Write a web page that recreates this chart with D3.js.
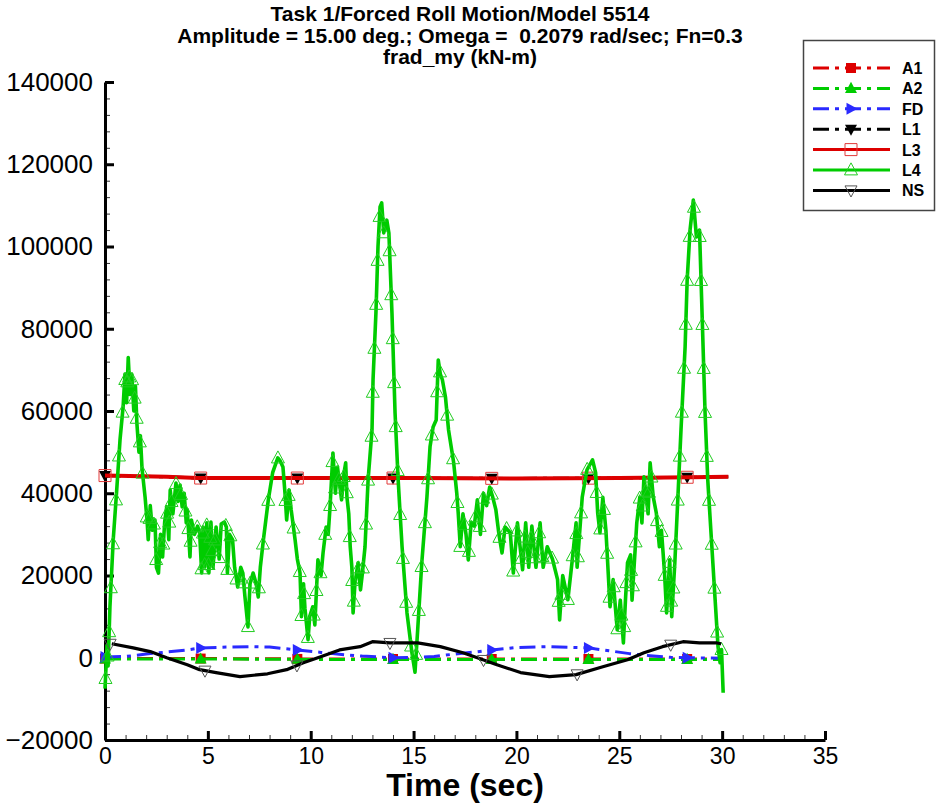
<!DOCTYPE html>
<html>
<head>
<meta charset="utf-8">
<script src="https://cdn.jsdelivr.net/npm/d3@7"></script>
<style>
  html, body { margin: 0; padding: 0; background: #fff; }
  svg { display: block; }
  text { font-family: "Liberation Sans", Arial, sans-serif; }
</style>
</head>
<body>
<svg id="chart" width="938" height="805"></svg>
<script>
// ---------------- DATA ----------------
const titleLines = [
  "Task 1/Forced Roll Motion/Model 5514",
  "Amplitude = 15.00 deg.; Omega =  0.2079 rad/sec; Fn=0.3",
  "frad_my (kN-m)"
];
const xLabel = "Time (sec)";
const seriesNames = ["A1", "A2", "FD", "L1", "L3", "L4", "NS"];
const xTicks = [0, 5, 10, 15, 20, 25, 30, 35];
const yTicks = [-20000, 0, 20000, 40000, 60000, 80000, 100000, 120000, 140000];

// marker times (symbols placed along each curve)
const markerTimes = [0, 4.65, 9.35, 14.0, 18.8, 23.5, 28.3];
const nsMarkerTimes = [0.25, 4.86, 9.33, 13.85, 18.4, 22.95, 27.5];

const a1 = [[0, -200], [5, -200], [10, -300], [15, -300], [20, -300], [25, -300], [30, -300]];
const a2 = [[0, -300], [5, -300], [10, -400], [15, -400], [20, -400], [25, -400], [30, -400]];
const fd = [[0, 200], [1, 300], [2, 900], [3, 1400], [4, 1900], [4.65, 2400], [6, 2600], [7, 2700],
  [8, 2600], [9.35, 1900], [10.5, 1300], [11.5, 800], [12.5, 400], [14, 0], [15, 100], [16, 300],
  [17, 900], [18, 1400], [18.8, 1900], [20, 2500], [21.5, 2700], [23.5, 2400], [24.5, 1700],
  [25.5, 1000], [26.5, 500], [27.5, 100], [28.3, 0], [30, -100]];
const l1 = [[0, 44300], [3, 44000], [4.5, 43700], [10, 43700], [15, 43700], [20, 43600], [25, 43700], [28.5, 43900], [30.3, 44000]];
const l3 = [[0, 44300], [3, 44000], [4.5, 43700], [10, 43700], [15, 43700], [20, 43600], [25, 43700], [28.5, 43900], [30.3, 44000]];
const ns = [[0.33, 3400], [1.37, 2400], [2.2, 1500], [3.0, 0], [4.0, -1700], [4.6, -2900], [5.4, -3600],
  [6.56, -4600], [7.9, -3900], [8.83, -2900], [9.64, -1200], [10.45, 200], [11.4, 1900], [12.4, 2700],
  [13.0, 3900], [13.85, 3600], [14.8, 3600], [15.2, 3600], [16.3, 2700], [17.4, 1200], [18.1, 0],
  [19.05, -1700], [20.2, -3600], [21.6, -4600], [22.9, -4100], [24.2, -2200], [25.4, -500],
  [26.2, 1200], [27.1, 2700], [28.1, 3900], [28.9, 3600], [29.75, 3600], [29.95, 3400]];
const l4 = [[0.0, -7500], [0.1, 3000], [0.15, -2000], [0.24, 12400], [0.4, 28700], [0.57, 40800],
  [0.73, 53000], [0.88, 61000], [0.97, 69000], [1.05, 62000], [1.13, 73000], [1.22, 64000], [1.3, 69000],
  [1.4, 60000], [1.48, 66000], [1.55, 57000], [1.65, 50000], [1.72, 54000], [1.8, 46000], [1.95, 39000],
  [2.05, 33000], [2.1, 28700], [2.2, 37000], [2.3, 31000], [2.43, 33500], [2.5, 22000], [2.6, 20600],
  [2.7, 30000], [2.8, 24500], [2.9, 33000], [3.0, 36700], [3.1, 28700], [3.17, 40800], [3.3, 35000],
  [3.45, 42500], [3.55, 38000], [3.65, 42000], [3.75, 36700], [3.85, 40000], [3.95, 32800], [4.0, 36000],
  [4.13, 24500], [4.2, 33500], [4.35, 30000], [4.5, 32000], [4.6, 30400], [4.7, 20600], [4.77, 31800],
  [4.85, 22100], [4.95, 32800], [5.05, 20600], [5.15, 33000], [5.25, 22000], [5.4, 31800], [5.55, 24000],
  [5.65, 32500], [5.8, 33000], [5.9, 31800], [5.95, 20600], [6.05, 30000], [6.2, 28700], [6.3, 22000],
  [6.45, 17200], [6.6, 22000], [6.7, 20600], [6.8, 15000], [6.95, 7500], [7.05, 18000], [7.2, 20600],
  [7.35, 18000], [7.45, 14800], [7.55, 22000], [7.7, 28700], [7.94, 38400], [8.15, 45000], [8.4, 48600],
  [8.5, 48000], [8.65, 46400], [8.75, 40000], [8.83, 33500], [8.95, 40800], [9.05, 36000], [9.24, 28700],
  [9.35, 24000], [9.48, 20600], [9.55, 10000], [9.65, 18000], [9.72, 12000], [9.87, 4400], [9.95, 10000],
  [10.1, 12400], [10.2, 8000], [10.35, 23800], [10.5, 20000], [10.6, 25500], [10.75, 31800], [10.85, 30000],
  [10.94, 36700], [11.08, 49800], [11.2, 40000], [11.3, 46400], [11.5, 38400], [11.62, 45000], [11.7, 47400],
  [11.76, 39100], [11.85, 35000], [11.92, 27000], [12.0, 22000], [12.06, 10900], [12.15, 18000],
  [12.3, 23100], [12.42, 16500], [12.5, 20000], [12.64, 27000], [12.79, 43300], [12.98, 55400],
  [13.03, 67600], [13.17, 83800], [13.27, 99900], [13.37, 109600], [13.45, 110600], [13.55, 103300],
  [13.7, 106400], [13.8, 103300], [13.95, 83800], [14.1, 59500], [14.25, 43300], [14.44, 27000],
  [14.68, 10900], [14.92, 1200], [15.07, -3500], [15.2, 6800], [15.4, 23100], [15.65, 39100],
  [15.8, 51300], [15.95, 56100], [16.1, 57800], [16.2, 72400], [16.3, 69000], [16.4, 67600],
  [16.55, 63400], [16.7, 55400], [16.95, 47400], [17.1, 40000], [17.17, 35200], [17.27, 27000],
  [17.4, 35000], [17.55, 30000], [17.66, 23800], [17.8, 33000], [17.95, 32000], [18.1, 38400],
  [18.25, 30000], [18.4, 40000], [18.55, 37000], [18.7, 41500], [18.85, 39000], [19.0, 36000],
  [19.15, 30000], [19.3, 25500], [19.45, 31800], [19.7, 30400], [19.85, 20600], [20.05, 32800],
  [20.3, 21400], [20.45, 32800], [20.6, 22000], [20.75, 32000], [20.95, 22000], [21.15, 32800],
  [21.3, 22000], [21.5, 27000], [21.75, 24000], [22.0, 19000], [22.1, 9200], [22.25, 20000],
  [22.5, 14100], [22.7, 23100], [22.9, 32800], [22.95, 22000], [23.2, 39100], [23.43, 45700],
  [23.7, 48100], [23.85, 45000], [23.95, 35200], [24.06, 30400], [24.2, 39000], [24.35, 31000],
  [24.55, 12400], [24.7, 19000], [24.9, 6800], [25.05, 14000], [25.2, 3600], [25.3, 14000],
  [25.4, 23100], [25.55, 25000], [25.62, 14000], [25.85, 32800], [26.0, 39100], [26.1, 32800],
  [26.2, 44000], [26.4, 35000], [26.5, 47400], [26.65, 39100], [26.8, 35200], [26.95, 27000],
  [27.05, 31000], [27.2, 20600], [27.3, 10900], [27.45, 23800], [27.55, 10000], [27.7, 23100],
  [27.85, 39100], [28.0, 55400], [28.2, 75600], [28.3, 91900], [28.44, 104000], [28.6, 111300],
  [28.75, 102300], [28.9, 104000], [29.0, 87700], [29.17, 59500], [29.3, 43300], [29.5, 27000],
  [29.65, 14800], [29.8, 2700], [29.9, -1200], [29.97, 2000], [30.05, -8500]];

// ---------------- STYLES ----------------
const RED = "#dd0000", GREEN = "#00cc00", BLUE = "#2a2aff", BLACK = "#000000";
const DASHDOT = "16,6,4,6";

const svg = d3.select("#chart");
const x = d3.scaleLinear().domain([0, 35]).range([105, 825]);
const y = d3.scaleLinear().domain([-20000, 140000]).range([740, 82]);

// marker shapes (centred)
function shape(kind, s) {
  const h = s / 2;
  switch (kind) {
    case "square": return `M${-h},${-h}H${h}V${h}H${-h}Z`;
    case "up": return `M0,${-h * 1.1}L${h},${h * 0.75}L${-h},${h * 0.75}Z`;
    case "down": return `M0,${h * 1.1}L${h},${-h * 0.75}L${-h},${-h * 0.75}Z`;
    case "right": return `M${h * 1.1},0L${-h * 0.75},${h}L${-h * 0.75},${-h}Z`;
  }
}

const series = [
  { name: "A1", data: a1, color: RED, width: 3, dash: DASHDOT, sym: "square", size: 10, fill: RED, sstroke: "none", marks: markerTimes },
  { name: "A2", data: a2, color: GREEN, width: 3, dash: DASHDOT, sym: "up", size: 12, fill: GREEN, sstroke: "none", marks: markerTimes },
  { name: "FD", data: fd, color: BLUE, width: 3, dash: DASHDOT, sym: "right", size: 12, fill: BLUE, sstroke: "none", marks: markerTimes },
  { name: "L1", data: l1, color: BLACK, width: 3, dash: DASHDOT, sym: "down", size: 12, fill: BLACK, sstroke: "none", marks: markerTimes },
  { name: "L3", data: l3, color: RED, width: 4, dash: null, sym: "square", size: 12, fill: "none", sstroke: "#e23a3a", marks: markerTimes },
  { name: "L4", data: l4, color: GREEN, width: 3.6, dash: null, sym: "up", size: 13, fill: "none", sstroke: "#22cc22", marks: null },
  { name: "NS", data: ns, color: BLACK, width: 3.2, dash: null, sym: "down", size: 12, fill: "none", sstroke: "#555", marks: nsMarkerTimes }
];

function interp(data, t) {
  const i = d3.bisector(d => d[0]).left(data, t);
  if (i <= 0) return data[0][1];
  if (i >= data.length) return data[data.length - 1][1];
  const a = data[i - 1], b = data[i];
  return a[1] + (b[1] - a[1]) * (t - a[0]) / (b[0] - a[0]);
}

// ---------------- AXES ----------------
const gAxes = svg.append("g");
const minorY = d3.range(-20000, 140001, 4000).filter(v => v % 20000 !== 0);
const minorX = d3.range(0, 36, 1).filter(v => v % 5 !== 0);

gAxes.append("g").attr("transform", "translate(105,0)")
  .call(d3.axisLeft(y).tickValues(minorY).tickSize(-5).tickSizeOuter(0).tickFormat(""))
  .call(g => g.select(".domain").remove())
  .call(g => g.selectAll(".tick line").attr("stroke", "#333").attr("stroke-width", 1));
gAxes.append("g").attr("transform", "translate(0,740)")
  .call(d3.axisBottom(x).tickValues(minorX).tickSize(-5).tickSizeOuter(0).tickFormat(""))
  .call(g => g.select(".domain").remove())
  .call(g => g.selectAll(".tick line").attr("stroke", "#333").attr("stroke-width", 1));

gAxes.append("g").attr("transform", "translate(105,0)")
  .call(d3.axisLeft(y).tickValues(yTicks).tickSize(-9).tickSizeOuter(0).tickPadding(12).tickFormat(d3.format("d")))
  .call(g => g.select(".domain").attr("stroke", "#000").attr("stroke-width", 3))
  .call(g => g.selectAll(".tick line").attr("stroke", "#000").attr("stroke-width", 3))
  .call(g => g.selectAll(".tick text").attr("font-size", 26).attr("fill", "#000")
    .style("font-family", '"Liberation Sans", Arial, sans-serif'));
gAxes.append("g").attr("transform", "translate(0,740)")
  .call(d3.axisBottom(x).tickValues(xTicks).tickSize(-9).tickSizeOuter(0).tickPadding(8).tickFormat(d3.format("d")))
  .call(g => g.select(".domain").attr("stroke", "#000").attr("stroke-width", 3))
  .call(g => g.selectAll(".tick line").attr("stroke", "#000").attr("stroke-width", 3))
  .call(g => g.selectAll(".tick text").attr("font-size", 23).attr("fill", "#000")
    .style("font-family", '"Liberation Sans Narrow", "Arial Narrow", "Liberation Sans", sans-serif'));

// ---------------- SERIES ----------------
const line = d3.line().x(d => x(d[0])).y(d => y(d[1]));
const gPlot = svg.append("g");

series.forEach(s => {
  gPlot.append("path").datum(s.data).attr("d", line)
    .attr("fill", "none").attr("stroke", s.color).attr("stroke-width", s.width)
    .attr("stroke-dasharray", s.dash).attr("stroke-linejoin", "round");
  let pts;
  if (s.marks) {
    pts = s.marks.map(t => [x(t), y(interp(s.data, t))]);
  } else {
    const sp = s.data.map(d => [x(d[0]), y(d[1])]);
    pts = [];
    const step = 44;
    let acc = 0, next = 10;
    for (let i = 1; i < sp.length; i++) {
      const [x0, y0] = sp[i - 1], [x1, y1] = sp[i];
      const len = Math.hypot(x1 - x0, y1 - y0);
      while (next <= acc + len) {
        const f = len === 0 ? 0 : (next - acc) / len;
        pts.push([x0 + (x1 - x0) * f, y0 + (y1 - y0) * f]);
        next += step;
      }
      acc += len;
    }
  }
  gPlot.append("g").selectAll("path").data(pts).join("path")
    .attr("transform", d => `translate(${d[0]},${d[1]})`)
    .attr("d", shape(s.sym, s.size))
    .attr("fill", s.fill).attr("stroke", s.sstroke).attr("stroke-width", 1);
});

// ---------------- TITLES ----------------
const gTitle = svg.append("g");
titleLines.forEach((t, i) => {
  gTitle.append("text").attr("x", 460).attr("y", 21 + i * 21.5)
    .attr("text-anchor", "middle").attr("font-size", 21).attr("font-weight", "bold")
    .style("white-space", "pre").attr("xml:space", "preserve").text(t);
});
svg.append("text").attr("x", 465).attr("y", 796).attr("text-anchor", "middle")
  .attr("font-size", 32).attr("font-weight", "bold")
  .style("font-family", '"Liberation Sans Narrow", "Arial Narrow", "Liberation Sans", sans-serif')
  .text(xLabel);

// ---------------- LEGEND ----------------
const gLeg = svg.append("g");
gLeg.append("rect").attr("x", 803.5).attr("y", 40.5).attr("width", 131).attr("height", 170)
  .attr("fill", "#fff").attr("stroke", "#444").attr("stroke-width", 1.5);
series.forEach((s, i) => {
  const yy = 68 + i * 20.4;
  gLeg.append("line").attr("x1", 813).attr("x2", 890).attr("y1", yy).attr("y2", yy)
    .attr("stroke", s.color).attr("stroke-width", 3).attr("stroke-dasharray", s.dash);
  gLeg.append("path").attr("transform", `translate(851,${yy})`).attr("d", shape(s.sym, s.size))
    .attr("fill", s.fill).attr("stroke", s.sstroke).attr("stroke-width", 1);
  gLeg.append("text").attr("x", 902).attr("y", yy + 6).attr("font-size", 16)
    .attr("font-weight", "bold").text(seriesNames[i]);
});
</script>
</body>
</html>
